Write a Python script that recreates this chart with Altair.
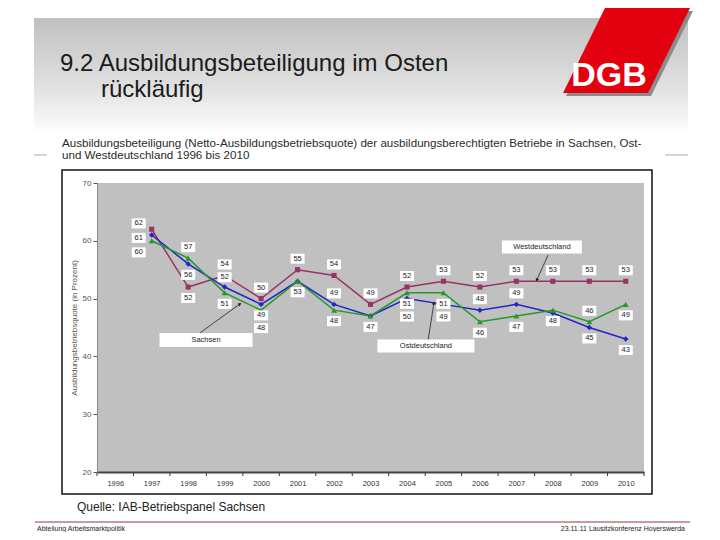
import math
import altair as alt
import pandas as pd

# ---------------- data ----------------
years = list(range(1997, 2011))
west = [62, 52, 54, 50, 55, 54, 49, 52, 53, 52, 53, 53, 53, 53]
sachsen = [60, 57, 51, 48, 53, 48, 47, 51, 51, 46, 47, 48, 46, 49]
ost = [61, 56, 52, 49, 53, 49, 47, 50, 49, 48, 49, 47.5, 45, 43]
series_names = ["Westdeutschland", "Ostdeutschland", "Sachsen"]
axis_years = list(range(1996, 2011))
y_ticks = [20, 30, 40, 50, 60, 70]
hidden_labels = {("Ostdeutschland", 2001), ("Ostdeutschland", 2003), ("Ostdeutschland", 2008)}

title_lines = ["9.2 Ausbildungsbeteiligung im Osten", "rückläufig"]
subtitle_lines = [
    "Ausbildungsbeteiligung (Netto-Ausbildungsbetriebsquote) der ausbildungsberechtigten Betriebe in Sachsen, Ost-",
    "und Westdeutschland 1996 bis 2010",
]
y_title = "Ausbildungsbetriebsquote (in Prozent)"
source_text = "Quelle: IAB-Betriebspanel Sachsen"
footer_left = "Abteilung Arbeitsmarktpolitik"
footer_right = "23.11.11 Lausitzkonferenz Hoyerswerda"
logo_text = "DGB"

# annotation: text, box centre (year, %), box w/h (px), arrow start (year, %), arrow end (year, %)
annotations = [
    ("Westdeutschland", 2007.70, 58.93, 80, 13, 2007.87, 57.54, 2007.56, 53.22),
    ("Sachsen", 1998.49, 42.84, 93, 14, 1998.32, 44.05, 1999.42, 49.07),
    ("Ostdeutschland", 2004.52, 41.80, 97, 13, 2004.58, 42.84, 2004.74, 49.24),
]

# ---------------- layout ----------------
FONT = "Liberation Sans"
PLOT_W, PLOT_H = 547, 289
X_DOMAIN = [1995.5, 2010.5]
Y_DOMAIN = [20, 70]
PX_X = PLOT_W / (X_DOMAIN[1] - X_DOMAIN[0])
PX_Y = PLOT_H / (Y_DOMAIN[1] - Y_DOMAIN[0])
ORIGIN = (97, 183)  # screen position of the plot's top-left corner
PAGE_W, PAGE_H = 686, 524


def sx(v):
    return v - ORIGIN[0]


def sy(v):
    return v - ORIGIN[1]


colors = ["#993366", "#2424c8", "#23992b"]
shapes = ["square", "diamond", "triangle-up"]
widths = [1.5, 1.5, 2.2]
sizes = [26, 34, 40]

series_values = {"Westdeutschland": west, "Ostdeutschland": ost, "Sachsen": sachsen}

rows = []
for name in series_names:
    for yr, v in zip(years, series_values[name]):
        rows.append({"series": name, "x": yr, "y": v})
df = pd.DataFrame(rows)

# label placement derived from the values
OFF, SEP = 1.9, 2.2
LBW, LBH = 7 / PX_X, 5 / PX_Y
FIRST_SHIFT = 13 / PX_X  # first year's labels sit to the left of the points
lab_rows = []
for i, yr in enumerate(years):
    pts = [(n, series_values[n][i]) for n in series_names if (n, yr) not in hidden_labels]
    pts.sort(key=lambda p: -p[1])
    n = len(pts)
    desired = []
    if i == 0:
        desired = [v + 1.0 for _, v in pts]
        sep = 2.5
    else:
        sep = SEP
        for j, (name, v) in enumerate(pts):
            if j == 0:
                d = v + OFF
            elif j == n - 1:
                d = v - OFF
            else:
                above = pts[j - 1][1] - v
                below = v - pts[j + 1][1]
                d = v + OFF if above > below else v - OFF
            desired.append(d)
    for j in range(1, n):
        if desired[j] > desired[j - 1] - sep:
            desired[j] = desired[j - 1] - sep
    lx = yr - FIRST_SHIFT if i == 0 else yr
    for (name, v), d in zip(pts, desired):
        lab_rows.append({"x": lx, "y": d, "text": str(int(round(v))),
                         "x1": lx - LBW, "x2": lx + LBW, "y1": d - LBH, "y2": d + LBH})
labdf = pd.DataFrame(lab_rows)

ann_rows, arrow_rows = [], []
for t, cx, cy, w, h, ax, ay, bx, by in annotations:
    ann_rows.append({"text": t, "x": cx, "y": cy, "x1": cx - w / 2 / PX_X, "x2": cx + w / 2 / PX_X,
                     "y1": cy - h / 2 / PX_Y, "y2": cy + h / 2 / PX_Y})
    dxp = (bx - ax) * PX_X
    dyp = -(by - ay) * PX_Y
    ang = math.degrees(math.atan2(dxp, -dyp)) % 360
    arrow_rows.append({"x": ax, "y": ay, "x2": bx, "y2": by, "ang": ang})
anndf = pd.DataFrame(ann_rows)
arrowdf = pd.DataFrame(arrow_rows)

bounds = [yr - 0.5 for yr in axis_years] + [axis_years[-1] + 0.5]
tickdf = pd.DataFrame({"x": bounds})

xs = alt.Scale(domain=X_DOMAIN, nice=False, zero=False)
ys = alt.Scale(domain=Y_DOMAIN, nice=False, zero=False)
x_axis = alt.Axis(values=axis_years, format="d", title=None, ticks=False, grid=False,
                  labelFontSize=7.5, labelColor="#333333", labelPadding=7, labelFont=FONT,
                  domainColor="#444444", domainWidth=2, zindex=1)
y_axis = alt.Axis(values=y_ticks, title=y_title, grid=False, tickSize=4, tickColor="#555555",
                  labelFontSize=8, labelColor="#555555", labelPadding=2, labelFont=FONT,
                  domainColor="#888888", titleFontSize=8, titleFontWeight="normal",
                  titleColor="#555555", titlePadding=4, titleFont=FONT, zindex=1)


def X(f):
    return alt.X(f, type="quantitative", scale=xs, axis=x_axis)


def Y(f):
    return alt.Y(f, type="quantitative", scale=ys, axis=y_axis)


color_enc = alt.Color("series:N", scale=alt.Scale(domain=series_names, range=colors), legend=None)

one = pd.DataFrame({"k": [0]})


def drect(x1, y1, x2, y2, **kw):
    return alt.Chart(one).mark_rect(**kw).encode(
        x=alt.value(sx(x1)), x2=alt.value(sx(x2)), y=alt.value(sy(y1)), y2=alt.value(sy(y2)))


def drule(x1, y1, x2, y2, **kw):
    return alt.Chart(one).mark_rule(**kw).encode(
        x=alt.value(sx(x1)), x2=alt.value(sx(x2)), y=alt.value(sy(y1)), y2=alt.value(sy(y2)))


def dtext(text, x, y, **kw):
    kw.setdefault("font", FONT)
    kw.setdefault("align", "left")
    kw.setdefault("baseline", "alphabetic")
    return alt.Chart(one).mark_text(text=text, **kw).encode(x=alt.value(sx(x)), y=alt.value(sy(y)))


gradient = alt.LinearGradient(
    gradient="linear", x1=0, y1=0, x2=0, y2=1,
    stops=[alt.GradientStop(color="#c0c0c0", offset=0),
           alt.GradientStop(color="#e0e0e0", offset=0.5),
           alt.GradientStop(color="#ffffff", offset=0.85)])

layers = []
layers.append(drect(34, 18, 688, 155, color=gradient))
layers.append(drule(34, 155, 688, 155, color="#a8a8a8", strokeWidth=1))
layers.append(drect(47, 133, 665, 500, color="white"))
layers.append(drect(62, 170, 652, 494, fill="white", stroke="#111111", strokeWidth=1.5))
layers.append(alt.Chart(one).mark_rect(color="#c0c0c0").encode(
    x=alt.value(0), x2=alt.value(PLOT_W), y=alt.value(0), y2=alt.value(PLOT_H)))

layers.append(alt.Chart(tickdf).mark_rule(color="#333333", strokeWidth=1).encode(
    x=X("x"), y=alt.value(PLOT_H), y2=alt.value(PLOT_H + 4)))

layers.append(alt.Chart(df).mark_line().encode(
    x=X("x"), y=Y("y"), color=color_enc, detail="series:N",
    strokeWidth=alt.StrokeWidth("series:N", scale=alt.Scale(domain=series_names, range=widths), legend=None)))
layers.append(alt.Chart(df).mark_point(filled=True, opacity=1, strokeWidth=0).encode(
    x=X("x"), y=Y("y"), color=color_enc,
    shape=alt.Shape("series:N", scale=alt.Scale(domain=series_names, range=shapes), legend=None),
    size=alt.Size("series:N", scale=alt.Scale(domain=series_names, range=sizes), legend=None)))

# annotations
layers.append(alt.Chart(arrowdf).mark_rule(color="#222222", strokeWidth=0.8).encode(
    x=X("x"), y=Y("y"), x2=alt.X2("x2"), y2=alt.Y2("y2")))
layers.append(alt.Chart(arrowdf).mark_point(shape="triangle-up", filled=True, color="#222222",
                                            opacity=1, size=14, strokeWidth=0).encode(
    x=X("x2"), y=Y("y2"), angle=alt.Angle("ang:Q", scale=None)))
layers.append(alt.Chart(anndf).mark_rect(color="white").encode(
    x=X("x1"), x2=alt.X2("x2"), y=Y("y1"), y2=alt.Y2("y2")))
layers.append(alt.Chart(anndf).mark_text(font=FONT, fontSize=7.5, color="#222222").encode(
    x=X("x"), y=Y("y"), text="text:N"))

# value labels
layers.append(alt.Chart(labdf).mark_rect(color="white").encode(
    x=X("x1"), x2=alt.X2("x2"), y=Y("y1"), y2=alt.Y2("y2")))
layers.append(alt.Chart(labdf).mark_text(font=FONT, fontSize=7.5, color="#222222",
                                         baseline="middle").encode(
    x=X("x"), y=Y("y"), text="text:N"))

# titles
layers.append(dtext(title_lines[0], 60, 71, fontSize=24, color="#1a1a1a"))
layers.append(dtext(title_lines[1], 101, 97, fontSize=24, color="#1a1a1a"))

# logo
logo_path = "M-0.339,-0.669L1,-0.669L0.339,0.669L-1,0.669Z"
logo_size = (2 * 63.5) ** 2
layers.append(alt.Chart(one).mark_point(shape=logo_path, filled=True, color="#8c8c8c", opacity=1,
                                        size=logo_size, strokeWidth=0).encode(
    x=alt.value(sx(626.5 + 3)), y=alt.value(sy(50.5 + 3))))
layers.append(alt.Chart(one).mark_point(shape=logo_path, filled=True, color="#e3000f", opacity=1,
                                        size=logo_size, strokeWidth=0).encode(
    x=alt.value(sx(626.5)), y=alt.value(sy(50.5))))
layers.append(dtext(logo_text, 609, 86, fontSize=34, fontWeight="bold", color="white",
                    align="center", font="Liberation Sans"))

# subtitle, source, footer
layers.append(dtext(subtitle_lines[0], 62, 146.5, fontSize=11.6, color="#2a2a2a"))
layers.append(dtext(subtitle_lines[1], 62, 158.5, fontSize=11.6, color="#2a2a2a"))
layers.append(dtext(source_text, 77, 511, fontSize=12, color="#222222"))
layers.append(drule(35, 522, 690, 522, color="#8b3a3a", strokeWidth=1))
layers.append(dtext(footer_left, 37, 530.5, fontSize=7, color="#222222"))
layers.append(dtext(footer_right, 685, 530.5, fontSize=7, color="#222222", align="right"))

chart = alt.layer(*layers).properties(
    width=PLOT_W, height=PLOT_H,
    padding={"left": ORIGIN[0] - 8, "top": ORIGIN[1] - 8,
             "right": PAGE_W - (ORIGIN[0] - 8) - PLOT_W,
             "bottom": PAGE_H - (ORIGIN[1] - 8) - PLOT_H},
    autosize=alt.AutoSizeParams(type="none"),
    background="white",
).configure_view(stroke=None)

chart.save("out.html", embed_options={"renderer": "svg", "actions": False})
